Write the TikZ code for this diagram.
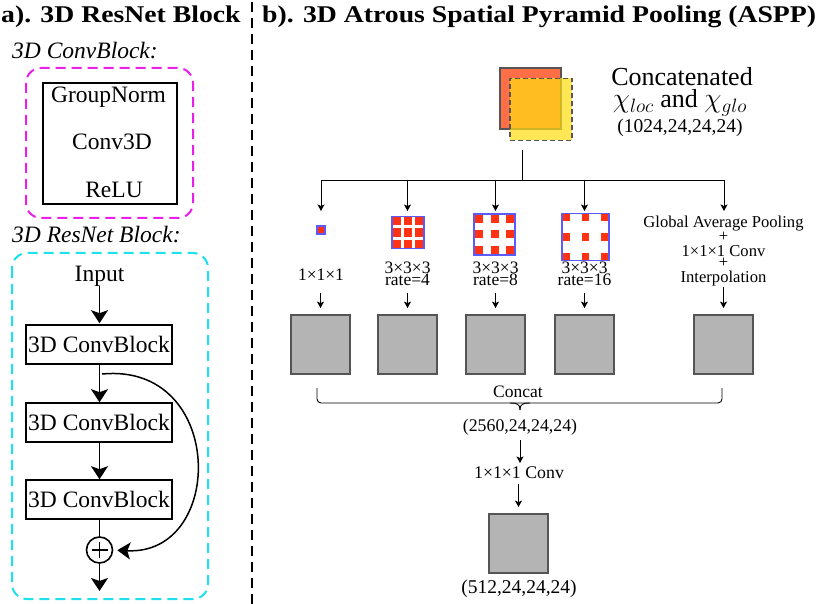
\documentclass[tikz,border=0pt]{standalone}
\usepackage{fontspec}
\setmainfont{Liberation Serif}
\usetikzlibrary{arrows.meta,calc}

\definecolor{mag}{RGB}{235,30,235}
\definecolor{cyn}{RGB}{30,225,238}
\definecolor{orng}{RGB}{255,111,71}
\definecolor{ylw}{RGB}{255,220,20}
\definecolor{gborder}{RGB}{85,85,85}
\definecolor{gfill}{RGB}{180,180,180}
\definecolor{kblue}{RGB}{90,90,255}
\definecolor{kred}{RGB}{255,50,20}

\newcommand{\fsz}[1]{\fontsize{#1}{#1}\selectfont}

\tikzset{
  titletext/.style={font=\fsz{24}\bfseries, inner sep=0, anchor=base west},
  itallab/.style={font=\fsz{23.5}\itshape, inner sep=0, anchor=base west},
  biglab/.style={font=\fsz{23.5}, inner sep=0, anchor=base},
  cblk/.style={draw, line width=1.6pt, minimum width=146pt, minimum height=39pt, inner sep=0, font=\fsz{23.5}},
  gbox/.style={draw=gborder, fill=gfill, line width=1.8pt, minimum size=59pt, inner sep=0},
  smalllab/.style={font=\fsz{17.5}, inner sep=0, anchor=base},
  ratelab/.style={font=\fontsize{17.5}{12}\selectfont, inner sep=0, align=center, anchor=base},
  gaplab/.style={font=\fsz{16.6}, inner sep=0, anchor=base},
  arr/.style={-{Stealth[length=6.5pt,width=7pt,inset=1.5pt]}, line width=0.9pt},
  bigarr/.style={-{Stealth[length=13pt,width=17pt,inset=3pt]}, line width=1.8pt},
  kbox/.style={fill=white, inner sep=0},
}

% kernel icon: name, cx, cy, size, cell size, pitch
\newcommand{\kernelicon}[6]{%
  \node[kbox, minimum size=#4pt] (#1) at (#2,#3) {};
  \foreach \i in {-1,0,1}{\foreach \j in {-1,0,1}{%
    \fill[kred, shift={(#2,#3)}] (\i*#6-#5/2, \j*#6-#5/2) rectangle +(#5,#5);}}
  \draw[kblue, line width=1.5pt] (#1.south west) rectangle (#1.north east);
}

\begin{document}
\begin{tikzpicture}[x=1pt, y=-1pt]
\useasboundingbox (0,0) rectangle (830,604);

% titles
\node[titletext] (ta) at (1,23) {\scalebox{1.155}[1]{a). 3D ResNet Block}};
\node[titletext] (tb) at (262,23) {\scalebox{1.155}[1]{b). 3D Atrous Spatial Pyramid Pooling (ASPP)}};

% separator
\draw[line width=1.8pt, dash pattern=on 10pt off 6pt] (252,2) -- (252,604);

% ---------- a) ----------
\node[itallab] (lcb) at (12,59) {3D ConvBlock:};
\draw[mag, line width=2pt, dash pattern=on 10pt off 6pt, rounded corners=15pt] (26,68) rectangle (193,218);
\node[draw, line width=2pt, minimum width=134pt, minimum height=121pt, inner sep=0] (cb) at (110,143.5) {};
\node[biglab] (gn) at (108.5,103) {GroupNorm};
\node[biglab] (cv) at (112,150) {Conv3D};
\node[biglab] (rl) at (114,198) {ReLU};

\node[itallab] (lrb) at (12,243) {3D ResNet Block:};
\draw[cyn, line width=2pt, dash pattern=on 10pt off 6pt, rounded corners=15pt] (12,253) rectangle (208,599);

\node[biglab] (in) at (99.5,281) {Input};
\node[cblk] (b1) at (99,344.5) {3D ConvBlock};
\node[cblk] (b2) at (99,422.5) {3D ConvBlock};
\node[cblk] (b3) at (99,499.5) {3D ConvBlock};
\node[circle, draw, line width=1.6pt, minimum size=26pt, inner sep=0] (c) at (99.5,550) {};
\draw[line width=1.6pt] (c.center) +(-8,0) -- +(8,0) (c.center) +(0,-8) -- +(0,8);
\coordinate (out) at (99.5,591);
\coordinate (sk) at (102,374);

\draw[bigarr, shorten >=1pt] (in.south) -- (in.south |- b1.north);
\draw[bigarr] (b1.south -| 99.5,0) -- (b2.north -| 99.5,0);
\draw[bigarr] (b2.south -| 99.5,0) -- (b3.north -| 99.5,0);
\draw[line width=1.8pt] (b3.south -| 99.5,0) -- (c.north);
\draw[bigarr] (c.south) -- (out);
\draw[-{Stealth[length=13pt,width=17pt,inset=3pt]}, line width=1.5pt, shorten >=4pt]
  (sk) .. controls (226,362) and (226,556) .. (c.east);

% ---------- b) ----------
\node[draw=gborder, fill=orng, line width=1.8pt, minimum size=61pt, inner sep=0] (fo) at (530.5,98.5) {};
\node[draw=gborder, fill=ylw, fill opacity=0.72, line width=1.8pt, dash pattern=on 5pt off 3pt, minimum size=62pt, inner sep=0] (fy) at (541,109.5) {};
\node[font=\fsz{26}, inner sep=0, anchor=base] (ct1) at (682,86) {Concatenated};
\node[font=\fsz{26}, inner sep=0, anchor=base] (ct2) at (680,108) {\scalebox{1.12}{$\chi_{loc}$} and \scalebox{1.12}{$\chi_{glo}$}};
\node[font=\fsz{19.5}, inner sep=0, anchor=base] (ct3) at (680,133) {(1024,24,24,24)};

\coordinate (t0) at (522,150);
\coordinate (t1) at (522,180);
\coordinate (bl) at (321,180);
\coordinate (br) at (724,180);
\draw[line width=0.9pt] (t0) -- (t1);
\draw[line width=0.9pt] (bl) -- (br);
\foreach \x/\n in {321/1,407.5/2,495.5/3,584.5/4,724/5}{
  \coordinate (top\n) at (\x,180);
  \coordinate (tip\n) at (\x,211);
  \draw[arr] (top\n) -- (tip\n);
}

\kernelicon{k1}{321}{230}{8}{8}{0}
\kernelicon{k2}{408}{232.5}{32}{8.5}{11.5}
\kernelicon{k3}{494.5}{234.5}{41}{8}{15.7}
\kernelicon{k4}{585.5}{237}{47}{7.5}{19.5}

\node[smalllab] (l1) at (321,280) {1×1×1};
\node[ratelab] (l2) at (407.5,285) {3×3×3\\rate=4};
\node[ratelab] (l3) at (495.5,285) {3×3×3\\rate=8};
\node[ratelab] (l4) at (584.5,285) {3×3×3\\rate=16};

\node[gaplab] (g1t) at (723.5,228) {Global Average Pooling};
\node[gaplab] (g2t) at (723.5,241) {+};
\node[gaplab] (g3t) at (723.5,256) {1×1×1 Conv};
\node[gaplab] (g4t) at (723.5,268) {+};
\node[gaplab] (g5t) at (723.5,283) {Interpolation};

\node[gbox] (g1) at (320.5,344.5) {};
\node[gbox] (g2) at (407.5,344.5) {};
\node[gbox] (g3) at (495.5,344.5) {};
\node[gbox] (g4) at (584.5,344.5) {};
\node[gbox] (g5) at (723.5,344.5) {};

\foreach \n/\y in {1/293,2/293,3/293,4/293,5/287}{
  \coordinate (s\n) at (g\n.north |- 0,\y);
  \draw[arr, shorten >=6pt] (s\n) -- (g\n.north);
}

% brace
\draw[line width=0.9pt, rounded corners=4pt] (317,388) -- (317,403) -- (722,403) -- (722,388);
\draw[line width=0.9pt] (510,403) .. controls (517,403) and (520,404) .. (520,410);
\draw[line width=0.9pt] (530,403) .. controls (523,403) and (520,404) .. (520,410);

\node[smalllab] (cc) at (518,397.5) {Concat};
\node[font=\fsz{17.8}, inner sep=0, anchor=base] (d1) at (520,431) {(2560,24,24,24)};
\coordinate (a0) at (520,440);
\coordinate (a1) at (520,463);
\draw[arr] (a0) -- (a1);
\node[font=\fsz{17.8}, inner sep=0, anchor=base] (cv2) at (519,478) {1×1×1 Conv};
\node[gbox] (gf) at (518.5,543.5) {};
\coordinate (a2) at (518.5,484);
\draw[arr, shorten >=6pt] (a2) -- (gf.north);
\node[font=\fsz{19.5}, inner sep=0, anchor=base] (d2) at (519,593) {(512,24,24,24)};

\end{tikzpicture}
\end{document}
